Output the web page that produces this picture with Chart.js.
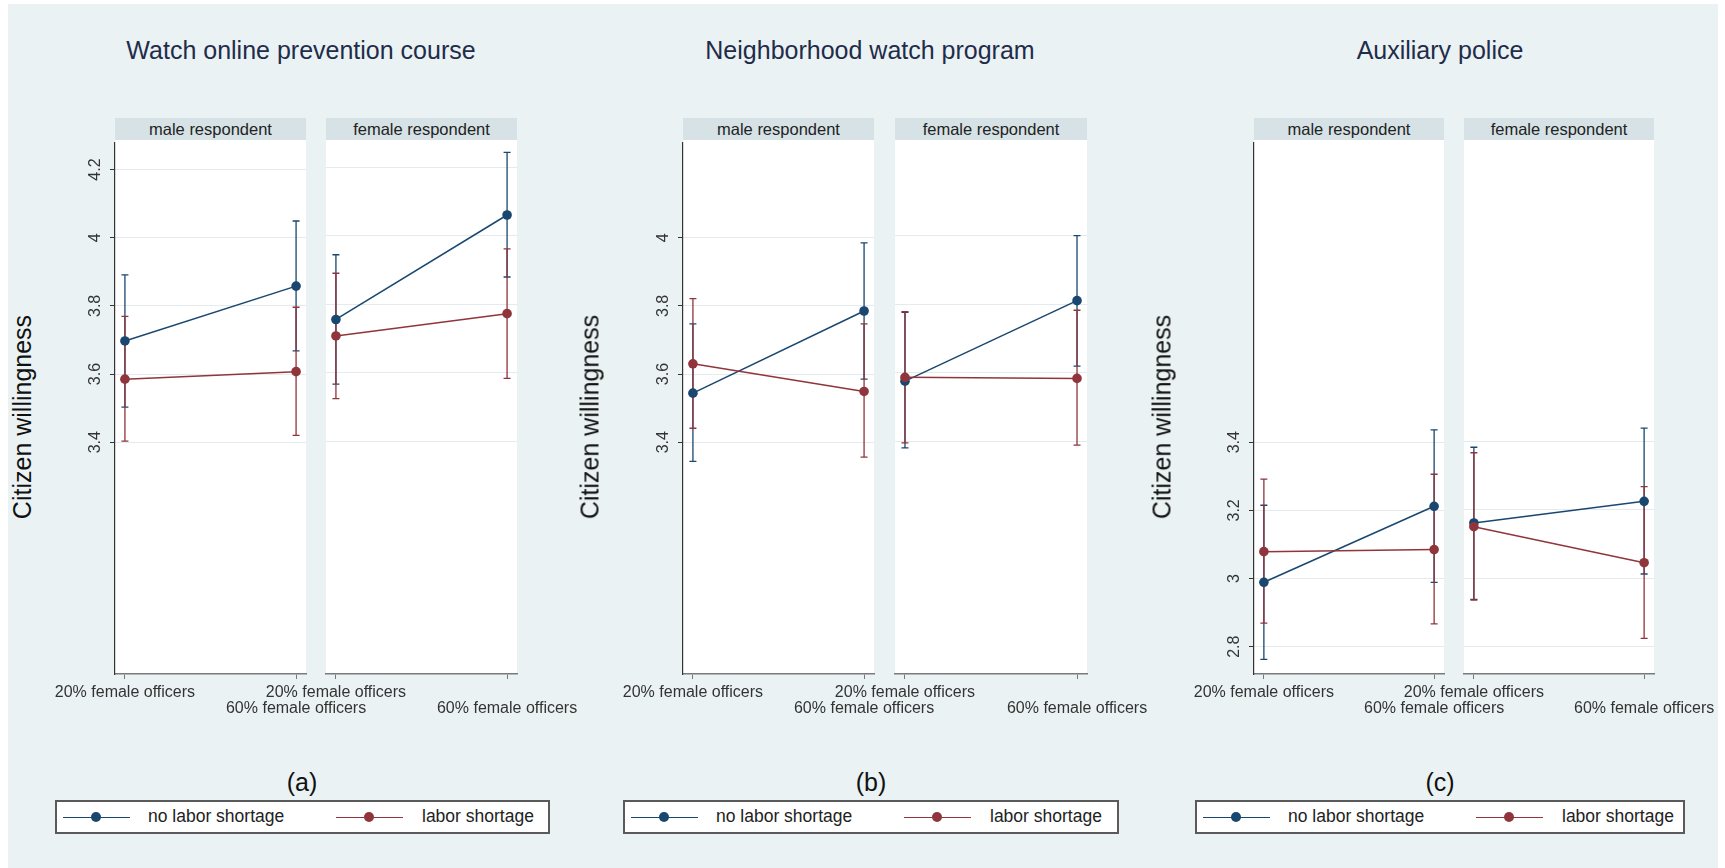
<!DOCTYPE html>
<html>
<head>
<meta charset="utf-8">
<script src="https://cdn.jsdelivr.net/npm/chart.js@4.4.1/dist/chart.umd.min.js"></script>
<style>
  body { margin: 0; background: #fff; font-family: "Liberation Sans", Arial, sans-serif; }
  #fig { position: relative; width: 1725px; height: 868px; overflow: hidden; }
  .abs { position: absolute; }
  .strip { background: #d6e2e6; color: #222; font-size: 16.5px; text-align: center; line-height: 22px; }
  .title { font-size: 25px; color: #1f2c4a; white-space: nowrap; transform: translate(-50%, -50%); }
  .tag { font-size: 25px; color: #111; transform: translate(-50%, -50%); }
  .ytitle { font-size: 25px; color: #111; white-space: nowrap; transform: translate(-50%, -50%) rotate(-90deg); }
  .legend { background: #fff; border: 2px solid #5a5a5a; box-sizing: border-box; }
  .legend span { position: absolute; font-size: 17.5px; color: #222; top: 50%; transform: translateY(-52%); white-space: nowrap; }
</style>
</head>
<body>
<div id="fig">
  <div class="abs" style="left:8px;top:4px;width:1710px;height:864px;background:#eaf2f3"></div>
</div>
<script>
// panel titles, facet names, categories
const panelTitles = ["Watch online prevention course", "Neighborhood watch program", "Auxiliary police"];
const panelTags = ["(a)", "(b)", "(c)"];
const facets = ["male respondent", "female respondent"];
const categories = ["20% female officers", "60% female officers"];
const seriesNames = ["no labor shortage", "labor shortage"];
const yTitle = "Citizen willingness";

// y tick labels shown in each panel
const yTicksA = [3.4, 3.6, 3.8, 4, 4.2];
const yTicksB = [3.4, 3.6, 3.8, 4];
const yTicksC = [2.8, 3, 3.2, 3.4];

// values: [male 20%, male 60%, female 20%, female 60%]
const onlineNo = [3.697, 3.858, 3.755, 4.060];
const onlineNoLo = [3.503, 3.668, 3.566, 3.879];
const onlineNoHi = [3.891, 4.049, 3.944, 4.243];
const onlineShort = [3.585, 3.607, 3.707, 3.772];
const onlineShortLo = [3.403, 3.420, 3.524, 3.583];
const onlineShortHi = [3.769, 3.796, 3.890, 3.961];

const watchNo = [3.544, 3.785, 3.575, 3.810];
const watchNoLo = [3.344, 3.585, 3.380, 3.619];
const watchNoHi = [3.747, 3.985, 3.776, 4.000];
const watchShort = [3.630, 3.549, 3.586, 3.583];
const watchShortLo = [3.441, 3.356, 3.395, 3.388];
const watchShortHi = [3.821, 3.747, 3.778, 3.782];

const auxNo = [2.989, 3.212, 3.161, 3.224];
const auxNoLo = [2.763, 2.989, 2.938, 3.012];
const auxNoHi = [3.215, 3.436, 3.382, 3.438];
const auxShort = [3.079, 3.085, 3.150, 3.045];
const auxShortLo = [2.869, 2.867, 2.936, 2.824];
const auxShortHi = [3.292, 3.306, 3.366, 3.267];

const NAVY = "#1a476f";
const MAROON = "#90353b";
const FONT = "'Liberation Sans', Arial, sans-serif";

const panels = [
  { ticks: yTicksA, no: [onlineNo, onlineNoLo, onlineNoHi], sh: [onlineShort, onlineShortLo, onlineShortHi],
    titleX: 301, yTitleX: 22, tagX: 302, legendX: 55, legendW: 495, subs: [{ x: 115, w: 191 }, { x: 326, w: 191 }] },
  { ticks: yTicksB, no: [watchNo, watchNoLo, watchNoHi], sh: [watchShort, watchShortLo, watchShortHi],
    titleX: 870, yTitleX: 590, tagX: 871, legendX: 623, legendW: 496, subs: [{ x: 683, w: 191 }, { x: 895, w: 192 }] },
  { ticks: yTicksC, no: [auxNo, auxNoLo, auxNoHi], sh: [auxShort, auxShortLo, auxShortHi],
    titleX: 1440, yTitleX: 1162, tagX: 1440, legendX: 1195, legendW: 490, subs: [{ x: 1254, w: 190 }, { x: 1464, w: 190 }] },
];

const PLOT_TOP = 140, PLOT_H = 534;
const fig = document.getElementById("fig");

function addDiv(cls, style, text) {
  const d = document.createElement("div");
  d.className = "abs " + cls;
  Object.assign(d.style, style);
  if (text !== undefined) d.textContent = text;
  fig.appendChild(d);
  return d;
}

// caps + whiskers, drawn under the lines and markers
const errorBars = {
  id: "errorBars",
  beforeDatasetsDraw(chart) {
    const { ctx, scales: { x, y } } = chart;
    chart.data.datasets.forEach(ds => {
      ctx.save();
      ctx.strokeStyle = ds.borderColor;
      ctx.lineWidth = 1.3;
      ds.data.forEach((p, i) => {
        const px = x.getPixelForValue(p.x);
        const top = y.getPixelForValue(ds.hi[i]);
        const bot = y.getPixelForValue(ds.lo[i]);
        ctx.beginPath();
        ctx.moveTo(px, top); ctx.lineTo(px, bot);
        ctx.moveTo(px - 3.5, top); ctx.lineTo(px + 3.5, top);
        ctx.moveTo(px - 3.5, bot); ctx.lineTo(px + 3.5, bot);
        ctx.stroke();
      });
      ctx.restore();
    });
  }
};

function series(vals, k) {
  return [{ x: 0, y: vals[k * 2] }, { x: 1, y: vals[k * 2 + 1] }];
}

panels.forEach((p, pi) => {
  addDiv("title", { left: p.titleX + "px", top: "50px" }, panelTitles[pi]);
  addDiv("ytitle", { left: p.yTitleX + "px", top: "417px" }, yTitle);
  addDiv("tag", { left: p.tagX + "px", top: "782px" }, panelTags[pi]);

  // legend
  const lg = addDiv("legend", { left: p.legendX + "px", top: "800px", width: p.legendW + "px", height: "34px" });
  [[NAVY, 8, 93, 0], [MAROON, 281, 367, 1]].forEach(([c, lx, tx, si]) => {
    const ln = document.createElement("div");
    Object.assign(ln.style, { position: "absolute", left: lx - 2 + "px", top: "14.5px", width: "67px", height: "1.6px", background: c });
    const dot = document.createElement("div");
    Object.assign(dot.style, { position: "absolute", left: lx + 33 - 2 - 5 + "px", top: "10px", width: "10px", height: "10px", borderRadius: "50%", background: c });
    const sp = document.createElement("span");
    sp.style.left = tx - 2 + "px";
    sp.textContent = seriesNames[si];
    lg.appendChild(ln); lg.appendChild(dot); lg.appendChild(sp);
  });

  p.subs.forEach((s, k) => {
    const male = k === 0;
    addDiv("", { left: s.x + "px", top: PLOT_TOP + "px", width: s.w + "px", height: PLOT_H + "px", background: "#fff" });
    addDiv("strip", { left: s.x + "px", top: "118px", width: s.w + "px", height: "22px" }, facets[k]);

    const cv = document.createElement("canvas");
    const W = s.w + 200, H = PLOT_H + 10 + 80;
    cv.width = W; cv.height = H;
    cv.className = "abs";
    Object.assign(cv.style, { left: s.x - 100 + "px", top: PLOT_TOP - 10 + "px", width: W + "px", height: H + "px" });
    fig.appendChild(cv);

    const yW = male ? 35 : 0;
    new Chart(cv, {
      type: "line",
      plugins: [errorBars],
      data: {
        datasets: [
          { label: seriesNames[0], data: series(p.no[0], k), lo: [p.no[1][k * 2], p.no[1][k * 2 + 1]], hi: [p.no[2][k * 2], p.no[2][k * 2 + 1]],
            borderColor: NAVY, backgroundColor: NAVY, borderWidth: 1.5, pointRadius: 4.8, pointBorderWidth: 0, order: 1 },
          { label: seriesNames[1], data: series(p.sh[0], k), lo: [p.sh[1][k * 2], p.sh[1][k * 2 + 1]], hi: [p.sh[2][k * 2], p.sh[2][k * 2 + 1]],
            borderColor: MAROON, backgroundColor: MAROON, borderWidth: 1.5, pointRadius: 4.8, pointBorderWidth: 0, order: 0 },
        ],
      },
      options: {
        responsive: false,
        animation: false,
        devicePixelRatio: 1,
        layout: { padding: { left: 100 - yW, right: 100, top: 10, bottom: 30 } },
        plugins: { legend: { display: false }, tooltip: { enabled: false } },
        scales: {
          x: {
            type: "linear",
            min: -0.058,
            max: 1.058,
            afterBuildTicks: sc => { sc.ticks = [{ value: 0 }, { value: 1 }]; },
            afterFit: sc => { sc.height = 50; sc.paddingLeft = 0; sc.paddingRight = 0; },
            ticks: {
              autoSkip: false,
              maxRotation: 0,
              padding: 6,
              color: "#333",
              font: { size: 16, family: FONT, lineHeight: 1.0 },
              callback: v => (v === 0 ? categories[0] : ["", categories[1]]),
            },
            grid: { display: true, drawOnChartArea: false, drawTicks: true, tickLength: 5, tickColor: "#777" },
            border: { display: true, color: "#7a7a7a", width: 1.5 },
          },
          y: {
            type: "linear",
            min: 2.72,
            max: 4.279,
            afterBuildTicks: sc => { sc.ticks = p.ticks.map(v => ({ value: v })); },
            afterFit: sc => { sc.width = yW; },
            ticks: {
              display: male,
              minRotation: 90,
              maxRotation: 90,
              crossAlign: "center",
              padding: 3,
              color: "#333",
              font: { size: 16, family: FONT },
              callback: v => String(+v.toFixed(1)),
            },
            grid: { color: "#e3ebee", lineWidth: 1, drawTicks: male, tickLength: 5, tickColor: "#333" },
            border: { display: male, color: "#333", width: 1.2 },
          },
        },
      },
    });
  });
});
</script>
</body>
</html>
